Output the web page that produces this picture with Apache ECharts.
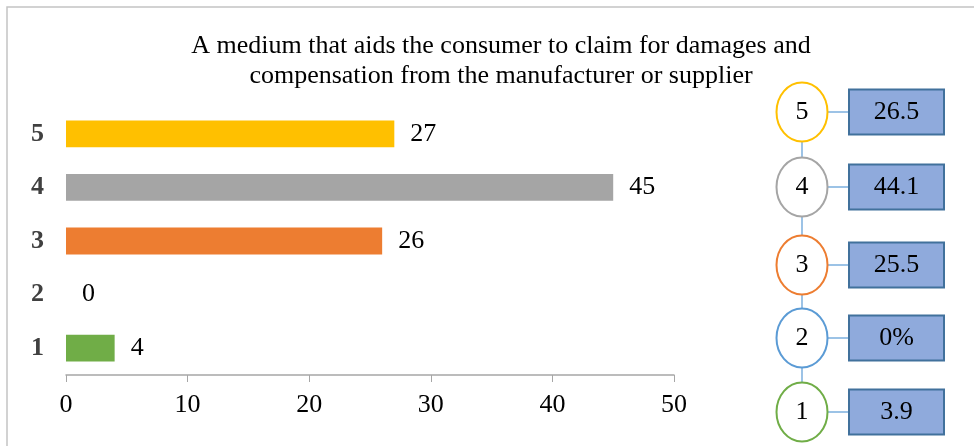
<!DOCTYPE html>
<html>
<head>
<meta charset="utf-8">
<script src="https://cdn.jsdelivr.net/npm/echarts@6/dist/echarts.min.js"></script>
<style>html,body{margin:0;padding:0;background:#fff}#c{width:974px;height:446px}</style>
</head>
<body>
<div id="c"></div>
<script>
var titleText = 'A medium that aids the consumer to claim for damages and\ncompensation from the manufacturer or supplier';
var categories = ['1', '2', '3', '4', '5'];
var values = [4, 0, 26, 45, 27];
var barColors = ['#70AD47', '#5B9BD5', '#ED7D31', '#A5A5A5', '#FFC000'];
var percentLabels = ['3.9', '0%', '25.5', '44.1', '26.5'];
var xTicks = [0, 10, 20, 30, 40, 50];

var FONT = '"Liberation Serif", "Times New Roman", serif';
var chart = echarts.init(document.getElementById('c'));

var graphics = [];
graphics.push({
  type: 'rect', z: 0, silent: true,
  shape: { x: 7, y: 7, width: 1100, height: 600 },
  style: { fill: 'none', stroke: '#C4C4C4', lineWidth: 1.5 }
});
var cx = 802, rx = 25.5, ry = 29.5;
var centers = [412, 338, 265, 187, 112];
for (var i = 0; i < centers.length - 1; i++) {
  graphics.push({ type: 'line', z: 1, shape: { x1: cx, y1: centers[i] - ry, x2: cx, y2: centers[i + 1] + ry },
    style: { stroke: '#5B9BD5', lineWidth: 1.2 } });
}
for (var j = 0; j < categories.length; j++) {
  var cy = centers[j];
  graphics.push({ type: 'line', z: 1, shape: { x1: cx + rx, y1: cy, x2: 849, y2: cy },
    style: { stroke: '#5B9BD5', lineWidth: 1.2 } });
  graphics.push({ type: 'ellipse', z: 2, shape: { cx: cx, cy: cy, rx: rx, ry: ry },
    style: { fill: '#fff', stroke: barColors[j], lineWidth: 2 } });
  graphics.push({ type: 'text', z: 3, x: cx, y: cy,
    style: { text: categories[j], fill: '#000', font: '26px ' + FONT, textAlign: 'center', textVerticalAlign: 'middle' } });
  graphics.push({ type: 'rect', z: 2, shape: { x: 849, y: cy - 22.5, width: 95, height: 45 },
    style: { fill: '#8FAADC', stroke: '#41719C', lineWidth: 2 } });
  graphics.push({ type: 'text', z: 3, x: 896.5, y: cy,
    style: { text: percentLabels[j], fill: '#000', font: '26px ' + FONT, textAlign: 'center', textVerticalAlign: 'middle' } });
}

chart.setOption({
  animation: false,
  title: {
    text: titleText, left: 496, top: 26, textAlign: 'center',
    textStyle: { fontFamily: FONT, fontSize: 26, fontWeight: 'normal', color: '#000', lineHeight: 30 }
  },
  grid: { left: 66, right: 300, top: 107, bottom: 71, containLabel: false },
  xAxis: {
    type: 'value', min: 0, max: 50, interval: 10,
    axisLine: { show: true, lineStyle: { color: '#A6A6A6', width: 1.5 } },
    axisTick: { show: true, length: 7, lineStyle: { color: '#A6A6A6' } },
    splitLine: { show: false },
    axisLabel: { fontFamily: FONT, fontSize: 26, color: '#000', margin: 17 }
  },
  yAxis: {
    type: 'category', data: categories,
    axisLine: { show: false }, axisTick: { show: false },
    axisLabel: { fontFamily: FONT, fontSize: 26, fontWeight: 'bold', color: '#404040', margin: 22 }
  },
  series: [{
    type: 'bar', barWidth: '50%',
    data: values.map(function (v, i) { return { value: v, itemStyle: { color: barColors[i] } }; }),
    label: { show: true, position: 'right', distance: 16, fontFamily: FONT, fontSize: 26, color: '#000' }
  }],
  graphic: graphics
});
</script>
</body>
</html>
